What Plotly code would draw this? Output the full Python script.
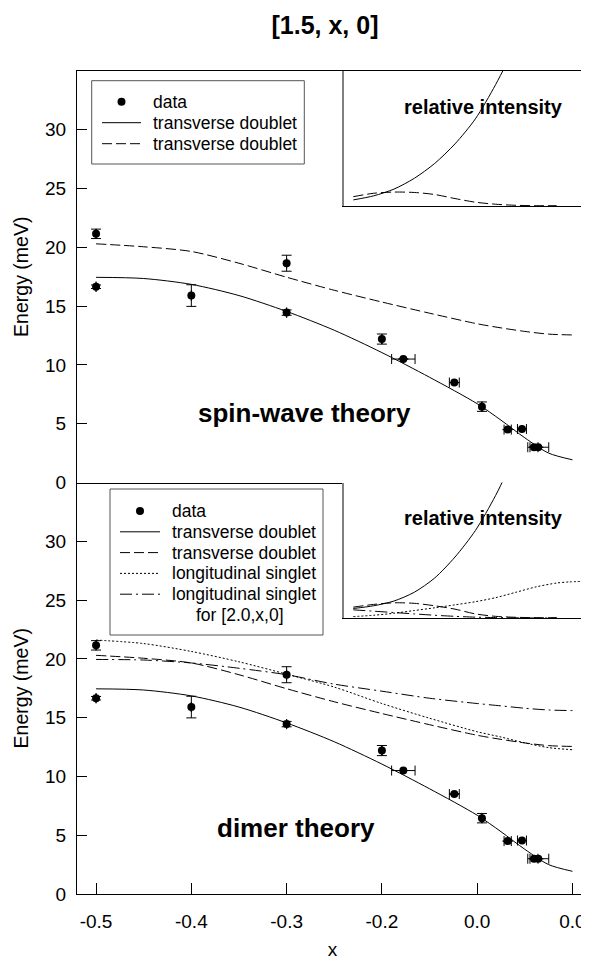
import plotly.graph_objects as go

# measured points, shown in both panels
data_x = [-0.5, -0.5, -0.4, -0.3, -0.3, -0.2, -0.1775, -0.124, -0.095, -0.068, -0.053, -0.0404, -0.0359]
data_e = [21.15, 16.65, 15.9, 18.65, 14.45, 12.2, 10.5, 8.5, 6.45, 4.5, 4.55, 3.0, 3.0]
err_e = [0.4, 0.15, 0.92, 0.68, 0.23, 0.43, None, None, 0.4, None, None, None, None]
err_x = [None, None, None, None, None, None, 0.0123, 0.0052, None, 0.0038, 0.0047, 0.0042, 0.011]

# model curves
curve_x = [-0.5, -0.45, -0.4, -0.35, -0.3, -0.25, -0.2, -0.15, -0.1, -0.075, -0.05, -0.025, 0.0]
trans_solid = [17.45, 17.35, 16.85, 15.9, 14.55, 12.95, 11.05, 8.95, 6.7, 5.3, 3.8, 2.5, 1.93]
trans_dash = [20.3, 20.05, 19.65, 18.65, 17.46, 16.35, 15.35, 14.4, 13.5, 13.15, 12.85, 12.62, 12.55]
long_dot = [21.6, 21.3, 20.63, 19.75, 18.7, 17.6, 16.2, 14.95, 13.8, 13.35, 12.85, 12.45, 12.27]
long_dashdot = [19.95, 19.9, 19.65, 19.2, 18.65, 17.85, 17.25, 16.65, 16.2, 16.0, 15.8, 15.65, 15.6]

# relative intensities for the insets
ins_x = [-0.5, -0.45, -0.4, -0.35, -0.3, -0.25, -0.2, -0.15, -0.1, -0.05, 0.0]
sw_int_solid = [0.045, 0.075, 0.125, 0.205, 0.315, 0.46, 0.645, 0.9, 1.2, 1.55, 1.95]
sw_int_dash = [0.069, 0.094, 0.103, 0.1, 0.085, 0.055, 0.028, 0.013, 0.005, 0.002, 0.002]
dm_int_solid = [0.07, 0.09, 0.125, 0.19, 0.295, 0.45, 0.645, 0.905, 1.22, 1.55, 1.95]
dm_int_dash = [0.08, 0.1, 0.112, 0.108, 0.09, 0.065, 0.03, 0.012, 0.005, 0.002, 0.002]
dm_int_dashdot = [0.06, 0.05, 0.04, 0.03, 0.02, 0.012, 0.006, 0.003, 0.001, 0.0, 0.0]
# the dotted intensity runs a bit further right
dot_x = [-0.5, -0.45, -0.4, -0.35, -0.3, -0.25, -0.2, -0.15, -0.1, -0.05, 0.0, 0.03, 0.064]
dm_int_dot = [0.01, 0.02, 0.035, 0.055, 0.075, 0.097, 0.12, 0.15, 0.19, 0.23, 0.258, 0.266, 0.27]

x_ticks = [-0.5, -0.4, -0.3, -0.2, -0.1, 0.0]
x_ticktext = ['-0.5', '-0.4', '-0.3', '-0.2', '0.0', '0.0']
y_ticks = [0, 5, 10, 15, 20, 25, 30]

FONT = 'Arial, Liberation Sans, sans-serif'
DASH = '10px,4px'
DOT = '2px,2px'
DASHDOT = '12px,4px,2px,4px'

# legend entries: (label, line style or 'marker')
top_legend = [('data', 'marker'), ('transverse doublet', 'solid'), ('transverse doublet', DASH)]
bottom_legend = [('data', 'marker'), ('transverse doublet', 'solid'), ('transverse doublet', DASH),
                 ('longitudinal singlet', DOT), ('longitudinal singlet', DASHDOT)]
bottom_legend_extra = 'for [2.0,x,0]'

fig = go.Figure()

# panels: (x axis, y axis, curves)
panels = [
    ('x2', 'y2', [(trans_solid, 'solid'), (trans_dash, DASH)]),
    ('x', 'y', [(trans_solid, 'solid'), (trans_dash, DASH),
                (long_dot, DOT), (long_dashdot, DASHDOT)]),
]

for xa, ya, curves in panels:
    fig.add_trace(go.Scatter(
        x=data_x, y=data_e, mode='markers', name='data', showlegend=False,
        marker=dict(color='black', size=8),
        error_y=dict(type='data', array=err_e, color='black', thickness=1, width=5),
        error_x=dict(type='data', array=err_x, color='black', thickness=1, width=5),
        xaxis=xa, yaxis=ya
    ))
    for vals, dash in curves:
        fig.add_trace(go.Scatter(
            x=curve_x, y=vals, mode='lines', showlegend=False,
            line=dict(color='black', width=1, dash=dash, shape='spline', smoothing=0.8),
            xaxis=xa, yaxis=ya
        ))

# inset curves
insets = [
    ('x3', 'y3', [(ins_x, sw_int_solid, 'solid'), (ins_x, sw_int_dash, DASH)]),
    ('x4', 'y4', [(ins_x, dm_int_solid, 'solid'), (ins_x, dm_int_dash, DASH),
                  (dot_x, dm_int_dot, DOT), (ins_x, dm_int_dashdot, DASHDOT)]),
]
for xa, ya, curves in insets:
    for xs, vals, dash in curves:
        fig.add_trace(go.Scatter(
            x=xs, y=vals, mode='lines', showlegend=False,
            line=dict(color='black', width=1, dash=dash, shape='spline', smoothing=0.8),
            xaxis=xa, yaxis=ya
        ))


# window pixels -> paper coords (plot area spans 77..588 x 71..894 in the window)
def px(v):
    return (v - 77) / 511


def py(v):
    return (894 - v) / 823


shapes = []
annotations = []


def add_legend(box, first_row, row_step, sym_x, text_x, items):
    x0, y0, x1, y1 = box
    shapes.append(dict(type='rect', xref='paper', yref='paper',
                       x0=px(x0), x1=px(x1), y0=py(y1), y1=py(y0),
                       line=dict(color='#555555', width=1), fillcolor='white'))
    for i, (label, style) in enumerate(items):
        ry = first_row + i * row_step
        if style == 'marker':
            xc = (sym_x[0] + sym_x[1]) / 2
            shapes.append(dict(type='circle', xref='paper', yref='paper',
                               xsizemode='pixel', ysizemode='pixel',
                               xanchor=px(xc), yanchor=py(ry),
                               x0=-4, x1=4, y0=-4, y1=4,
                               line=dict(color='black', width=0), fillcolor='black'))
        else:
            shapes.append(dict(type='line', xref='paper', yref='paper',
                               x0=px(sym_x[0]), x1=px(sym_x[1]), y0=py(ry), y1=py(ry),
                               line=dict(color='black', width=1, dash=style)))
        annotations.append(dict(text=label, xref='paper', yref='paper', x=px(text_x), y=py(ry),
                                xanchor='left', yanchor='middle', showarrow=False,
                                font=dict(size=17.5)))


add_legend((91.7, 80.7, 304.3, 164), 101.7, 21, (102, 141), 150.7, top_legend)
add_legend((110, 489, 323, 635), 511, 20.8, (120, 160), 170, bottom_legend)
annotations.append(dict(text=bottom_legend_extra, xref='paper', yref='paper', x=px(194), y=py(615),
                        xanchor='left', yanchor='middle', showarrow=False, font=dict(size=17.5)))

annotations += [
    dict(text='<b>spin-wave theory</b>', x=-0.281, y=5.93, xref='x2', yref='y2',
         showarrow=False, font=dict(size=26)),
    dict(text='<b>dimer theory</b>', x=-0.29, y=5.64, xref='x', yref='y',
         showarrow=False, font=dict(size=26)),
    dict(text='<b>relative intensity</b>', x=-0.181, y=0.736, xref='x3', yref='y3',
         showarrow=False, font=dict(size=20)),
    dict(text='<b>relative intensity</b>', x=-0.181, y=0.736, xref='x4', yref='y4',
         showarrow=False, font=dict(size=20)),
]

main_x = dict(range=[-0.52, 0.0163], showline=True, linecolor='black', linewidth=1,
              showgrid=False, zeroline=False, tickvals=x_ticks, ticktext=x_ticktext)
main_y = dict(range=[0, 35], showline=True, linecolor='black', linewidth=1,
              showgrid=False, zeroline=False, tickvals=y_ticks, ticks='inside',
              ticklen=10, tickcolor='black', ticklabelstandoff=6,
              tickfont=dict(size=19),
              title=dict(text='Energy (meV)', font=dict(size=19.5), standoff=11))
inset_x = dict(range=[-0.5229, 0.077], showline=True, linecolor='black', linewidth=1,
               showgrid=False, zeroline=False, showticklabels=False, ticks='')
inset_y = dict(range=[0, 1], showline=True, linecolor='#808080', linewidth=2,
               showgrid=False, zeroline=False, showticklabels=False, ticks='')

# the page body adds an 8px margin, so the figure is 8px smaller than the window
fig.update_layout(
    width=581, height=952,
    margin=dict(l=69, r=1, t=63, b=66),
    plot_bgcolor='white', paper_bgcolor='white',
    font=dict(family=FONT, color='black', size=19),
    showlegend=False,
    title=dict(text='<b>[1.5, x, 0]</b>', x=0.5456, xanchor='center', y=0.982,
               yanchor='middle', font=dict(size=25)),
    xaxis=dict(main_x, domain=[0, 1], anchor='y', ticks='inside', ticklen=11,
               tickcolor='black', ticklabelstandoff=10,
               title=dict(text='x', font=dict(size=19), standoff=14)),
    yaxis=dict(main_y, domain=[0, 0.5], anchor='x'),
    xaxis2=dict(main_x, domain=[0, 1], anchor='y2', mirror=True, ticks='',
                showticklabels=False),
    yaxis2=dict(main_y, domain=[0.5, 1], anchor='x2'),
    xaxis3=dict(inset_x, domain=[0.5225, 1], anchor='y3'),
    yaxis3=dict(inset_y, domain=[0.836, 1], anchor='x3'),
    xaxis4=dict(inset_x, domain=[0.5225, 1], anchor='y4'),
    yaxis4=dict(inset_y, domain=[0.3354, 0.5], anchor='x4'),
    shapes=shapes,
    annotations=annotations,
)

fig.write_html('out.html')
